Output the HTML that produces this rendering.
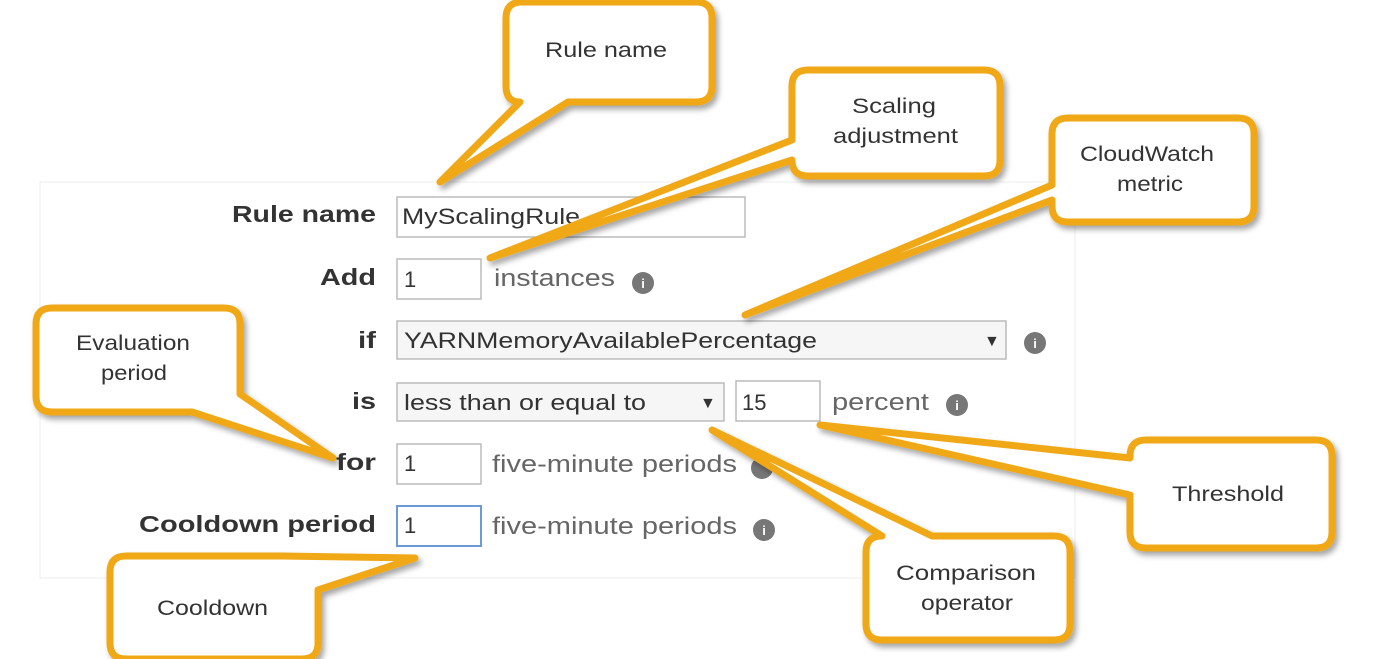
<!DOCTYPE html>
<html><head><meta charset="utf-8"><style>
html,body{margin:0;padding:0;background:#fff;}
svg{display:block;}
text{font-family:"Liberation Sans",sans-serif;}
</style></head><body>
<svg width="1396" height="659" viewBox="0 0 1396 659" xmlns="http://www.w3.org/2000/svg">
<defs><filter id="sh" x="-10%" y="-10%" width="130%" height="130%"><feDropShadow dx="3" dy="4" stdDeviation="3" flood-color="#000" flood-opacity="0.35"/></filter></defs>
<rect x="40" y="182" width="1035" height="396" fill="#fff" stroke="#eee" stroke-width="1"/>
<g font-size="23" fill="#333" font-weight="bold">
<text x="232" y="222" textLength="144" lengthAdjust="spacingAndGlyphs">Rule name</text>
<text x="320" y="285" textLength="56" lengthAdjust="spacingAndGlyphs">Add</text>
<text x="358" y="348" textLength="18" lengthAdjust="spacingAndGlyphs">if</text>
<text x="352" y="409" textLength="24" lengthAdjust="spacingAndGlyphs">is</text>
<text x="336" y="470" textLength="40" lengthAdjust="spacingAndGlyphs">for</text>
<text x="139" y="532" textLength="237" lengthAdjust="spacingAndGlyphs">Cooldown period</text>
</g>
<g fill="#fff" stroke="#bbb" stroke-width="1.5">
<rect x="397" y="197" width="348" height="40"/>
<rect x="397" y="259" width="84" height="40"/>
<rect x="397" y="321" width="609" height="38" fill="#f6f6f6"/>
<rect x="397" y="383" width="327" height="38" fill="#f6f6f6"/>
<rect x="736" y="381" width="84" height="40"/>
<rect x="397" y="444" width="84" height="40"/>
<rect x="397" y="506" width="84" height="40" stroke="#6a9ad8" stroke-width="2"/>
</g>
<g font-size="22" fill="#333">
<text x="402" y="224" textLength="178" lengthAdjust="spacingAndGlyphs">MyScalingRule</text>
<text x="404" y="287">1</text>
<text x="404" y="348" textLength="413" lengthAdjust="spacingAndGlyphs">YARNMemoryAvailablePercentage</text>
<text x="984" y="346" font-size="16">▼</text>
<text x="404" y="410" textLength="242" lengthAdjust="spacingAndGlyphs">less than or equal to</text>
<text x="700" y="408" font-size="16">▼</text>
<text x="742" y="410">15</text>
<text x="404" y="471">1</text>
<text x="404" y="533">1</text>
</g>
<g font-size="24" fill="#666">
<text x="494" y="286" textLength="121" lengthAdjust="spacingAndGlyphs">instances</text>
<text x="832" y="410" textLength="97" lengthAdjust="spacingAndGlyphs">percent</text>
<text x="492" y="472" textLength="245" lengthAdjust="spacingAndGlyphs">five-minute periods</text>
<text x="492" y="534" textLength="245" lengthAdjust="spacingAndGlyphs">five-minute periods</text>
</g>
<g fill="#777">
<circle cx="643" cy="283" r="11"/><circle cx="1035" cy="343" r="11"/><circle cx="957" cy="405" r="11"/><circle cx="762" cy="468" r="11"/><circle cx="764" cy="530" r="11"/>
</g>
<g fill="#fff" font-size="13" font-weight="bold" text-anchor="middle">
<text x="643" y="288">i</text><text x="1035" y="348">i</text><text x="957" y="410">i</text><text x="764" y="535">i</text>
</g>
<g fill="#fff" stroke="#f0a818" stroke-width="7" stroke-linejoin="round" filter="url(#sh)">
<path d="M522 2 H696 Q712 2 712 18 V86 Q712 102 696 102 H568 L440 182 L520 102 Q506 102 506 86 V18 Q506 2 522 2 Z"/>
<path d="M808 70 H984 Q1000 70 1000 86 V160 Q1000 176 984 176 H808 Q792 176 792 160 L490 258 L792 140 V86 Q792 70 808 70 Z"/>
<path d="M1068 118 H1238 Q1254 118 1254 134 V206 Q1254 222 1238 222 H1068 Q1052 222 1052 206 V200 L745 315 L1052 185 V134 Q1052 118 1068 118 Z"/>
<path d="M52 308 H224 Q240 308 240 324 V394 L333 458 L192 412 H52 Q36 412 36 396 V324 Q36 308 52 308 Z"/>
<path d="M126 556 H282 L415 558 L318 590 V643 Q318 659 302 659 H126 Q110 659 110 643 V572 Q110 556 126 556 Z"/>
<path d="M882 536 L712 430 L932 536 H1054 Q1070 536 1070 552 V624 Q1070 640 1054 640 H882 Q866 640 866 624 V552 Q866 536 882 536 Z"/>
<path d="M1146 440 H1316 Q1332 440 1332 456 V532 Q1332 548 1316 548 H1146 Q1130 548 1130 532 V495 L820 425 L1130 458 V456 Q1130 440 1146 440 Z"/>
</g>
<g font-size="21" fill="#333">
<text x="545" y="57" textLength="122" lengthAdjust="spacingAndGlyphs">Rule name</text>
<text x="852" y="113" textLength="84" lengthAdjust="spacingAndGlyphs">Scaling</text><text x="833" y="143" textLength="125" lengthAdjust="spacingAndGlyphs">adjustment</text>
<text x="1080" y="161" textLength="134" lengthAdjust="spacingAndGlyphs">CloudWatch</text><text x="1117" y="191" textLength="66" lengthAdjust="spacingAndGlyphs">metric</text>
<text x="76" y="350" textLength="114" lengthAdjust="spacingAndGlyphs">Evaluation</text><text x="101" y="380" textLength="66" lengthAdjust="spacingAndGlyphs">period</text>
<text x="157" y="615" textLength="111" lengthAdjust="spacingAndGlyphs">Cooldown</text>
<text x="896" y="580" textLength="140" lengthAdjust="spacingAndGlyphs">Comparison</text><text x="921" y="610" textLength="92" lengthAdjust="spacingAndGlyphs">operator</text>
<text x="1172" y="501" textLength="112" lengthAdjust="spacingAndGlyphs">Threshold</text>
</g>
</svg>
</body></html>
